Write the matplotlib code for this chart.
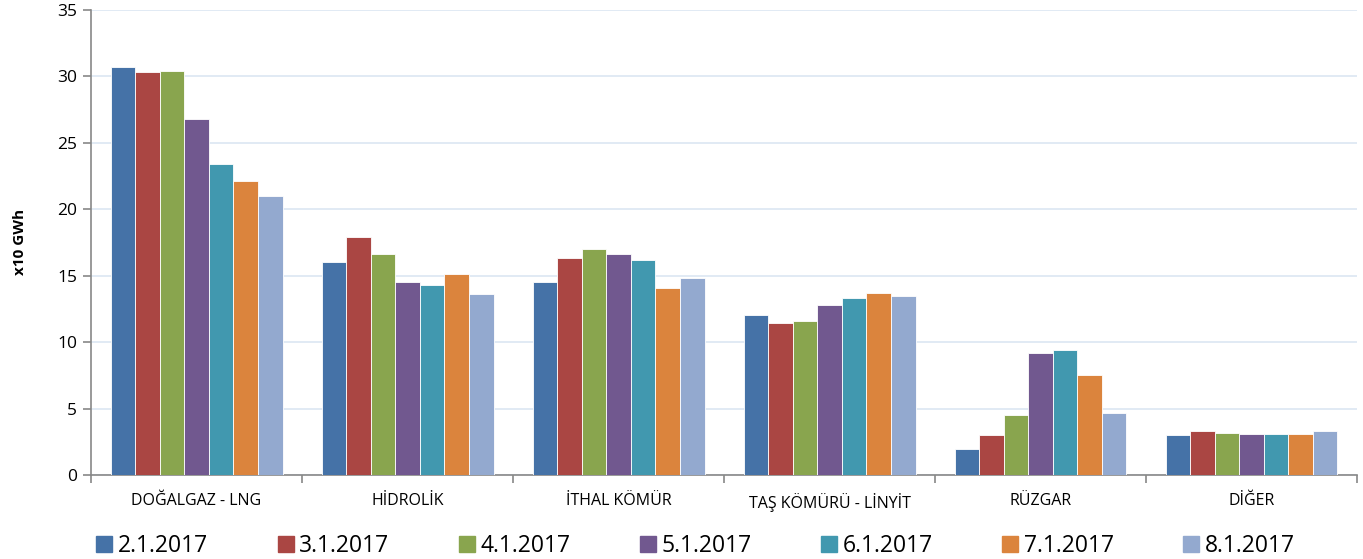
import matplotlib.pyplot as plt
import numpy as np
from matplotlib.lines import Line2D

plt.rcParams['font.family'] = ['Open Sans', 'DejaVu Sans']

# kategorier og serier
kategorier = ["DOĞALGAZ - LNG", "HİDROLİK", "İTHAL KÖMÜR", "TAŞ KÖMÜRÜ - LİNYİT", "RÜZGAR", "DİĞER"]
datoer = ["2.1.2017", "3.1.2017", "4.1.2017", "5.1.2017", "6.1.2017", "7.1.2017", "8.1.2017"]
farger = ["#4572a7", "#aa4643", "#89a54e", "#71588f", "#4198af", "#db843d", "#93a9cf"]

d_0201 = [30.7, 16.0, 14.5, 12.0, 2.0, 3.0]
d_0301 = [30.3, 17.9, 16.3, 11.4, 3.0, 3.3]
d_0401 = [30.4, 16.6, 17.0, 11.6, 4.5, 3.2]
d_0501 = [26.8, 14.5, 16.6, 12.8, 9.2, 3.1]
d_0601 = [23.4, 14.3, 16.2, 13.3, 9.4, 3.1]
d_0701 = [22.1, 15.1, 14.1, 13.7, 7.5, 3.1]
d_0801 = [21.0, 13.6, 14.8, 13.5, 4.7, 3.3]
serier = [d_0201, d_0301, d_0401, d_0501, d_0601, d_0701, d_0801]

fig = plt.figure(figsize=(13.63, 5.59), dpi=100)
ax = fig.add_axes([0.0668, 0.150, 0.9288, 0.833])

x = np.arange(len(kategorier))
bredde = 0.815 / 7
for i, (s, f) in enumerate(zip(serier, farger)):
    ax.bar(x - 0.4075 + bredde * (i + 0.5), s, bredde, color=f,
           edgecolor='white', linewidth=0.6, zorder=3)

ax.set_xlim(-0.5, len(kategorier) - 0.5)
ax.set_ylim(0, 35)
ax.set_yticks(range(0, 36, 5))
ax.yaxis.grid(True, color='#dce6f2', linewidth=1.2, zorder=0)
ax.set_axisbelow(True)

for side in ['top', 'right']:
    ax.spines[side].set_visible(False)
ax.spines['left'].set_color('#888888')
ax.spines['bottom'].set_color('#888888')
ax.spines['left'].set_linewidth(1.2)
ax.spines['bottom'].set_linewidth(1.2)

# kategorietiketter uten ticks, separatorer som minor ticks
ax.set_xticks(x)
ax.set_xticklabels(kategorier, fontsize=11.5)
ax.tick_params(axis='x', length=0, pad=13)
ax.set_xticks(np.arange(-0.5, len(kategorier)), minor=True)
ax.tick_params(axis='x', which='minor', length=6, color='#888888', width=1.2)
ax.tick_params(axis='y', labelsize=12.5, length=6, color='#888888', width=1.2, pad=4)

ax.set_ylabel("x10 GWh", fontsize=11, fontweight='bold', labelpad=22)

handles = [Line2D([0], [0], marker='s', linestyle='', markersize=11,
                  markerfacecolor=f, markeredgecolor=f) for f in farger]
fig.legend(handles, datoer, loc='lower center', ncol=7, frameon=False,
           fontsize=16.5, bbox_to_anchor=(0.509, -0.035), columnspacing=2.87,
           handletextpad=0.1, handlelength=1.0)

fig.savefig("out.png", dpi=100)
